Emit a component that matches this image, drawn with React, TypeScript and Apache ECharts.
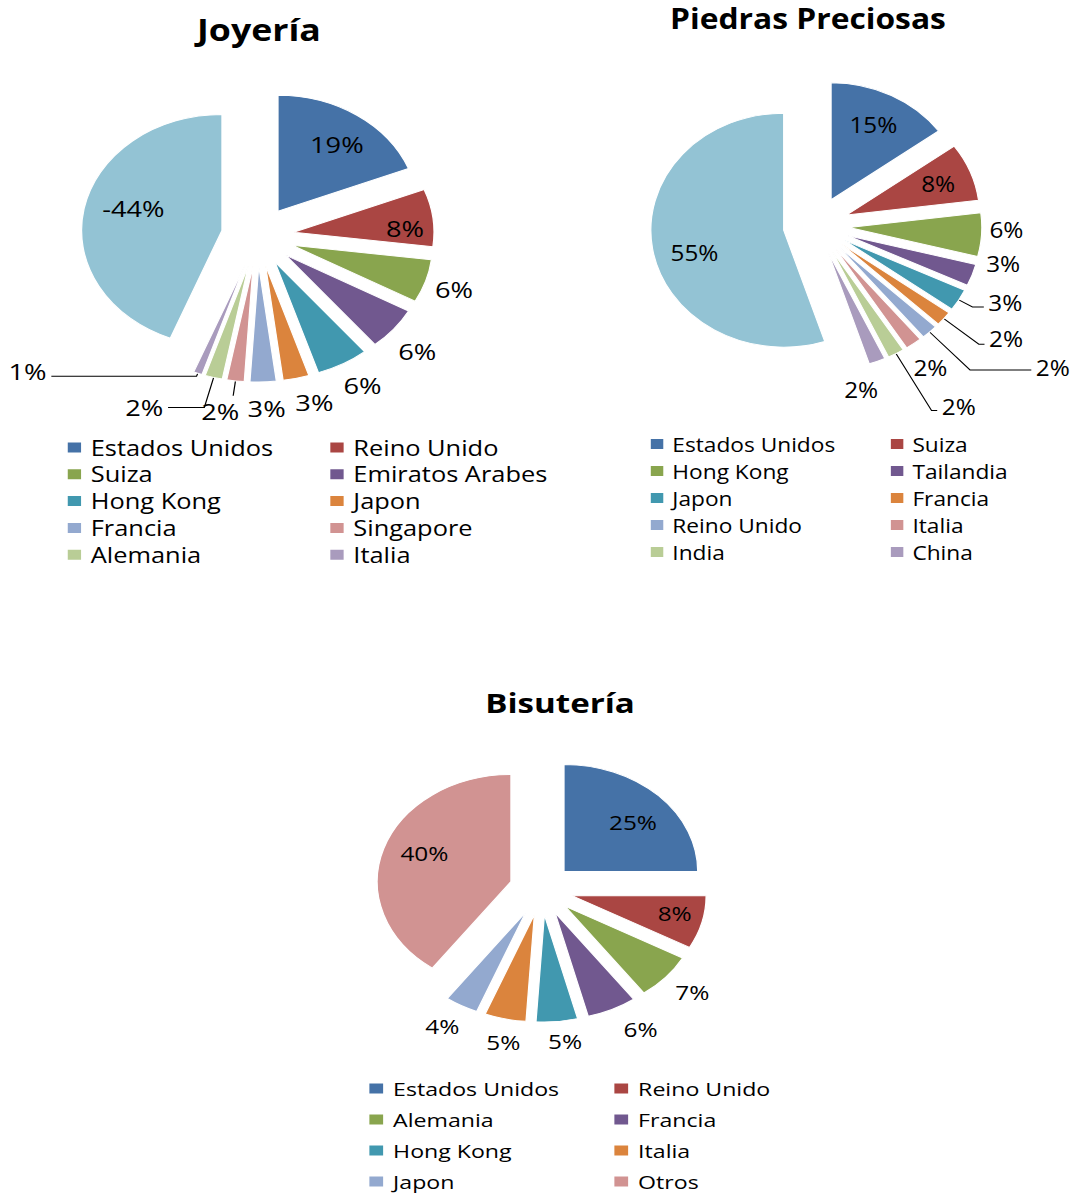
import React, { useEffect, useRef } from 'react';
import * as echarts from 'echarts';

const FONT = "'Open Sans', 'DejaVu Sans', sans-serif";

// Shared slice palette (in legend order) and the colour of the remaining share
const PALETTE = ['#4572A7', '#AA4643', '#89A54E', '#71588F', '#4198AF', '#DB843D', '#93A9CF', '#D19392', '#B9CD96', '#A99BBD'];
const REST_COLOR = '#93C3D4';

// ---- Joyería ----
const joyeriaCategories = ['Estados Unidos', 'Reino Unido', 'Suiza', 'Emiratos Arabes', 'Hong Kong', 'Japon', 'Francia', 'Singapore', 'Alemania', 'Italia', 'Otros'];
const joyeriaValues = [19, 8, 6, 6, 6, 3, 3, 2, 2, 1, -44];
const joyeriaColors = [...PALETTE, REST_COLOR];

// ---- Piedras Preciosas ----
const piedrasCategories = ['Estados Unidos', 'Suiza', 'Hong Kong', 'Tailandia', 'Japon', 'Francia', 'Reino Unido', 'Italia', 'India', 'China', 'Otros'];
const piedrasValues = [15, 8, 6, 3, 3, 2, 2, 2, 2, 2, 55];
const piedrasColors = [...PALETTE, REST_COLOR];

// ---- Bisutería ----
const bisuteriaCategories = ['Estados Unidos', 'Reino Unido', 'Alemania', 'Francia', 'Hong Kong', 'Italia', 'Japon', 'Otros'];
const bisuteriaValues = [25, 8, 7, 6, 5, 5, 4, 40];
const bisuteriaColors = PALETTE.slice(0, 8);

// Label placement per slice:
//  ['in', f, nx, ny]               -> inside, at f * radius from the slice tip
//  ['out', nx, ny]                 -> just outside the arc, nudged by (nx, ny)
//  ['line', len, len2, va, nx, ny] -> outside with a leader line
type Lbl = (string | number)[];

const joyeriaLabels: Lbl[] = [
  ['in', 0.7, 3, 0], ['in', 0.8, 0, 7], ['out', -3, 1], ['out', -2, 7], ['out', 3, 0], ['out', 9, 1], ['out', 2, 3],
  ['line', 15, 0, 'top', 9, 4], ['line', 31, 30, '', 0, 0], ['line', 3, 120, '', 0, -5], ['in', 0.66, 2, -8],
];
const piedrasLabels: Lbl[] = [
  ['in', 0.7, 0, -2], ['in', 0.74, 0, 1], ['out', -5, -6], ['out', 2, -19], ['line', 14, 10, '', 0, -4], ['line', 40, 5, '', 0, -5],
  ['line', 52, 54, '', 0, -2], ['out', -1, 6], ['line', 65, 5, '', 0, -3], ['out', -24, 8], ['in', 0.68, 0, 10],
];
const bisuteriaLabels: Lbl[] = [
  ['in', 0.69, 3, 3], ['in', 0.78, 1, -4], ['out', 2, 0], ['out', 12, 0], ['out', 4, -2], ['out', 4, 2], ['out', -3, 1], ['in', 0.7, 2, -5],
];

interface Frame {
  left: number; top: number; width: number; height: number; scaleX: number;
}
interface Geometry {
  cx: number; cy: number; r: number; offset: number; gap: number;
  titleX: number; titleTop: number; titleSize: number; labelSize: number;
  legendX: [number, number]; legendTop: number; legendGap: number; fontSize: number; legendCount: number;
}
interface ChartProps {
  title: string; categories: string[]; values: number[]; colors: string[]; labels: Lbl[];
  frame: Frame; geo: Geometry;
}

function buildOption(p: ChartProps) {
  const { geo } = p;
  const total = p.values.reduce((s, v) => s + Math.abs(v), 0);
  let acc = 0;
  // unit vector of each slice's bisector (clockwise from 12 o'clock)
  const dirs = p.values.map((v) => {
    const a = Math.abs(v);
    const th = (2 * Math.PI * (acc + a / 2)) / total;
    acc += a;
    return [Math.sin(th), -Math.cos(th)];
  });

  const legendNames = p.categories.slice(0, geo.legendCount);
  const legendBase = {
    orient: 'vertical' as const,
    top: geo.legendTop,
    itemGap: geo.legendGap,
    itemWidth: 13,
    itemHeight: 12,
    icon: 'rect',
    padding: 0,
    selectedMode: false,
    textStyle: { fontFamily: FONT, fontSize: geo.fontSize, color: '#000', padding: [0, 0, 0, 2] },
  };

  return {
    animation: false,
    title: {
      text: p.title,
      left: geo.titleX,
      top: geo.titleTop,
      textAlign: 'center',
      padding: 0,
      textStyle: { fontFamily: FONT, fontWeight: 'bold', fontSize: geo.titleSize, color: '#000' },
    },
    legend: [
      { ...legendBase, left: geo.legendX[0], data: legendNames.filter((_, i) => i % 2 === 0) },
      { ...legendBase, left: geo.legendX[1], data: legendNames.filter((_, i) => i % 2 === 1) },
    ],
    series: [
      {
        type: 'pie',
        center: [geo.cx, geo.cy],
        radius: geo.r,
        startAngle: 90,
        clockwise: true,
        selectedMode: 'multiple',
        selectedOffset: geo.offset,
        avoidLabelOverlap: false,
        emphasis: { disabled: true },
        itemStyle: { borderColor: '#fff', borderWidth: 1 },
        select: { itemStyle: { borderColor: '#fff', borderWidth: 1 } },
        label: { fontFamily: FONT, fontSize: geo.labelSize, color: '#000' },
        labelLine: { lineStyle: { color: '#000', width: 1 } },
        data: p.values.map((v, i) => {
          const spec = p.labels[i];
          const mode = spec[0];
          return {
            name: p.categories[i],
            value: Math.abs(v),
            selected: true,
            itemStyle: { color: p.colors[i] },
            label: {
              position: mode === 'in' ? 'inside' : 'outside',
              formatter: `${v}%`,
              distanceToLabelLine: mode === 'line' ? 4 : 0,
            },
            labelLine: {
              show: mode === 'line',
              length: mode === 'line' ? (spec[1] as number) : mode === 'out' ? geo.gap : 10,
              length2: mode === 'line' ? (spec[2] as number) : 0,
            },
          };
        }),
        labelLayout: (params: any) => {
          const i = params.dataIndex;
          const spec = p.labels[i];
          const [ux, uy] = dirs[i];
          const w = params.labelRect.width;
          const h = params.labelRect.height;
          if (spec[0] === 'in') {
            const k = (spec[1] as number) * geo.r - geo.r / 2 - 3;
            return { dx: ux * k + (spec[2] as number), dy: uy * k + (spec[3] as number) };
          }
          if (spec[0] === 'out') {
            return {
              align: 'center',
              verticalAlign: 'middle',
              dx: (ux * w) / 2 + (spec[1] as number),
              dy: (uy * h) / 2 + (spec[2] as number),
            };
          }
          const out: any = { dx: spec[4] as number, dy: spec[5] as number };
          if (spec[3]) out.verticalAlign = spec[3];
          return out;
        },
      },
    ],
  };
}

function PieChart(props: ChartProps) {
  const ref = useRef<HTMLDivElement>(null);
  useEffect(() => {
    const chart = echarts.init(ref.current!, undefined, { renderer: 'svg' });
    chart.setOption(buildOption(props) as any);
    return () => chart.dispose();
  }, []);
  const f = props.frame;
  return (
    <div
      style={{
        position: 'absolute',
        left: f.left,
        top: f.top,
        width: f.width,
        height: f.height,
        transform: `scaleX(${f.scaleX})`,
        transformOrigin: '0 0',
      }}
    >
      <div ref={ref} style={{ width: '100%', height: '100%' }} />
    </div>
  );
}

export default function App() {
  return (
    <div style={{ position: 'absolute', left: 0, top: 0, width: 1076, height: 1194, background: '#fff', overflow: 'hidden' }}>
      <PieChart
        title="Joyería"
        categories={joyeriaCategories}
        values={joyeriaValues}
        colors={joyeriaColors}
        labels={joyeriaLabels}
        frame={{ left: 0, top: 0, width: 475, height: 600, scaleX: 1.21 }}
        geo={{
          cx: 212.9, cy: 236, r: 116, offset: 30, gap: 12,
          titleX: 214, titleTop: 15, titleSize: 29.5, labelSize: 22.5,
          legendX: [54, 271], legendTop: 437, legendGap: 5.8, fontSize: 21, legendCount: 10,
        }}
      />
      <PieChart
        title="Piedras Preciosas"
        categories={piedrasCategories}
        values={piedrasValues}
        colors={piedrasColors}
        labels={piedrasLabels}
        frame={{ left: 560, top: 0, width: 455, height: 600, scaleX: 1.135 }}
        geo={{
          cx: 225.7, cy: 225.6, r: 117, offset: 29, gap: 12,
          titleX: 218.5, titleTop: 4, titleSize: 28, labelSize: 21.4,
          legendX: [78, 289.5], legendTop: 434, legendGap: 7, fontSize: 20, legendCount: 10,
        }}
      />
      <PieChart
        title="Bisutería"
        categories={bisuteriaCategories}
        values={bisuteriaValues}
        colors={bisuteriaColors}
        labels={bisuteriaLabels}
        frame={{ left: 300, top: 600, width: 620, height: 594, scaleX: 1.25 }}
        geo={{
          cx: 193.1, cy: 289.5, r: 107, offset: 25.6, gap: 12,
          titleX: 208, titleTop: 89, titleSize: 26.5, labelSize: 19.5,
          legendX: [53.5, 249.5], legendTop: 479, legendGap: 12, fontSize: 18.5, legendCount: 8,
        }}
      />
    </div>
  );
}
